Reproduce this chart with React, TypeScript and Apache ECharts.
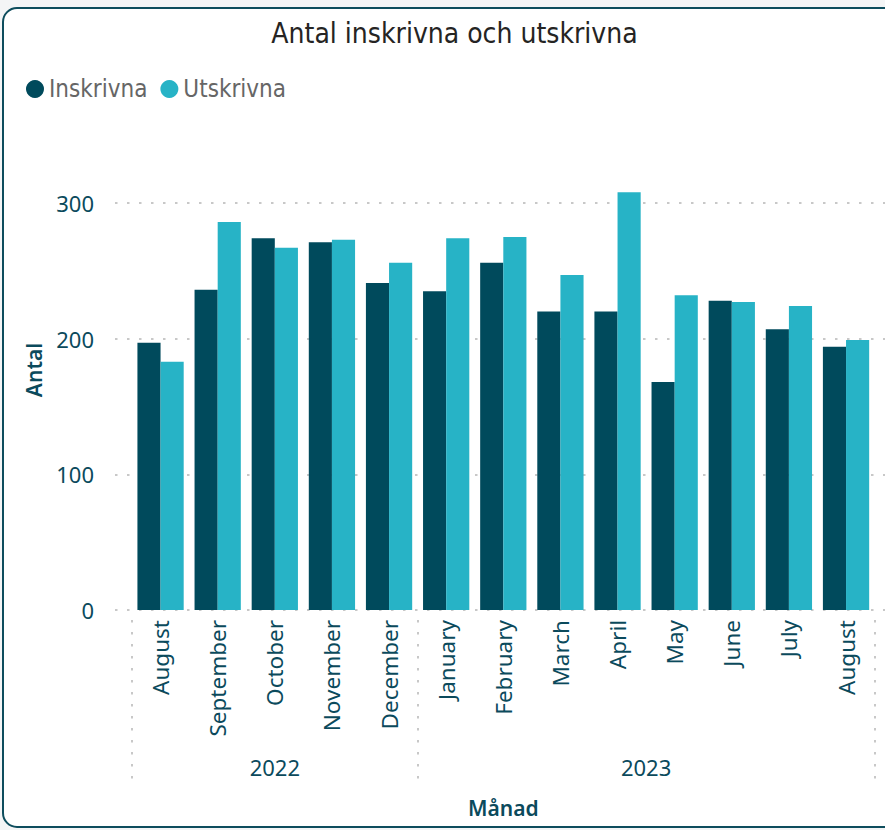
import React, { useEffect, useRef } from "react";
import * as echarts from "echarts";

const months = [
  "August", "September", "October", "November", "December",
  "January", "February", "March", "April", "May", "June", "July", "August",
];
const years = [
  "2022", "2022", "2022", "2022", "2022",
  "2023", "2023", "2023", "2023", "2023", "2023", "2023", "2023",
];
const inskrivna = [197, 236, 274, 271, 241, 235, 256, 220, 220, 168, 228, 207, 194];
const utskrivna = [183, 286, 267, 273, 256, 274, 275, 247, 308, 232, 227, 224, 199];
const yTicks = [0, 100, 200, 300];

const DARK = "#004a5c";
const LIGHT = "#27b3c6";
const TEAL_TEXT = "#0b4a5c";
const DOT = "#c8c8c8";
const SANS = "'Noto Sans', 'Open Sans', sans-serif";
const DIN = "'DejaVu Sans Condensed', 'Liberation Sans Narrow', sans-serif";

export default function App() {
  const ref = useRef<HTMLDivElement>(null);

  useEffect(() => {
    if (!ref.current) return;
    const chart = echarts.init(ref.current, undefined, { renderer: "svg" });

    // Year groups -> half-slot axis (boundaries on even slots, label at group center)
    const n = months.length;
    const slots: string[] = new Array(2 * n + 1).fill("");
    const tickIdx = new Set<number>();
    let start = 0;
    tickIdx.add(0);
    while (start < n) {
      let end = start;
      while (end < n && years[end] === years[start]) end++;
      const count = end - start;
      slots[2 * start + count] = years[start];
      tickIdx.add(2 * end);
      start = end;
    }

    const yMax = yTicks[yTicks.length - 1];
    const pxPerUnit = (610 - 203) / yMax;
    const barsMax = (610 - 130) / pxPerUnit;

    const dotted = { color: DOT, type: [2.5, 9.5] as any, width: 2 };

    chart.setOption({
      animation: false,
      backgroundColor: "#f4f5f6",
      graphic: [
        {
          type: "rect",
          z: -100,
          silent: true,
          shape: { x: 3, y: 8, width: 930, height: 819, r: 14 },
          style: { fill: "#ffffff", stroke: "#0e4d5d", lineWidth: 2 },
        },
        {
          type: "text",
          x: 454.5,
          y: 33,
          style: {
            text: "Antal inskrivna och utskrivna",
            align: "center",
            verticalAlign: "middle",
            fontSize: 28,
            fontFamily: DIN,
            fill: "#252423",
          },
        },
      ],
      legend: {
        data: ["Inskrivna", "Utskrivna"],
        icon: "circle",
        left: 21,
        top: 72,
        itemWidth: 18,
        itemHeight: 18,
        itemGap: 13,
        textStyle: { fontSize: 24, fontFamily: DIN, color: "#666666" },
      },
      grid: [
        { left: 115, right: 0, top: 203, bottom: 220 },
        { left: 132, right: 10.4, top: 130, bottom: 220 },
      ],
      xAxis: [
        { gridIndex: 0, type: "value", min: 0, max: 1, show: false },
        {
          gridIndex: 1,
          type: "category",
          data: months,
          axisLine: { show: false },
          axisTick: { show: false },
          axisLabel: {
            rotate: 90,
            margin: 10,
            fontSize: 22.5,
            fontFamily: SANS,
            color: TEAL_TEXT,
            interval: 0,
          },
          name: "Månad",
          nameLocation: "middle",
          nameGap: 187,
          nameTextStyle: { fontSize: 21, fontWeight: 600, fontFamily: SANS, color: TEAL_TEXT },
        },
        {
          gridIndex: 1,
          type: "category",
          data: slots,
          boundaryGap: false,
          position: "bottom",
          offset: 10,
          axisLine: { show: false },
          axisTick: {
            show: true,
            length: 168,
            interval: (i: number) => tickIdx.has(i),
            lineStyle: dotted,
          },
          axisLabel: {
            interval: (i: number) => slots[i] !== "",
            margin: 136,
            fontSize: 22,
            fontFamily: SANS,
            color: TEAL_TEXT,
          },
        },
      ],
      yAxis: [
        {
          gridIndex: 0,
          type: "value",
          min: 0,
          max: yMax,
          interval: 100,
          axisLine: { show: false },
          axisTick: { show: false },
          axisLabel: { margin: 21, fontSize: 22, fontFamily: SANS, color: TEAL_TEXT },
          splitLine: { show: true, lineStyle: dotted },
        },
        {
          gridIndex: 1,
          type: "value",
          min: 0,
          max: barsMax,
          axisLine: { show: false },
          axisTick: { show: false },
          axisLabel: { show: false },
          splitLine: { show: false },
          name: "Antal",
          nameLocation: "middle",
          nameGap: 88,
          nameTextStyle: { fontSize: 21, fontWeight: 600, fontFamily: SANS, color: TEAL_TEXT },
        },
      ],
      series: [
        {
          name: "Inskrivna",
          type: "bar",
          xAxisIndex: 1,
          yAxisIndex: 1,
          data: inskrivna,
          barGap: "0%",
          barCategoryGap: "19%",
          itemStyle: { color: DARK },
        },
        {
          name: "Utskrivna",
          type: "bar",
          xAxisIndex: 1,
          yAxisIndex: 1,
          data: utskrivna,
          barGap: "0%",
          barCategoryGap: "19%",
          itemStyle: { color: LIGHT },
        },
      ],
    });

    return () => chart.dispose();
  }, []);

  return (
    <div
      ref={ref}
      style={{ position: "fixed", left: 0, top: 0, width: 885, height: 830 }}
    />
  );
}
